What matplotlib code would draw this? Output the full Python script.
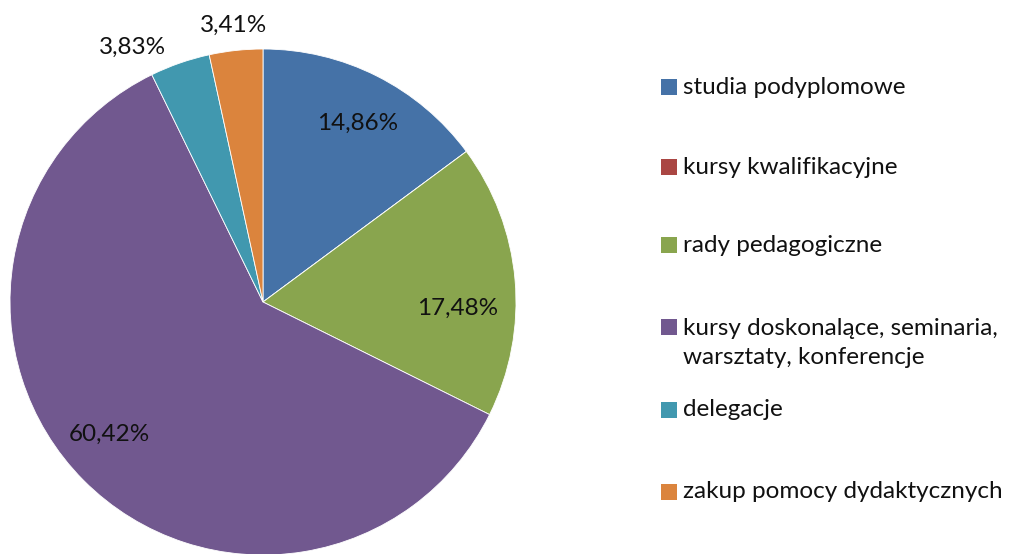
import matplotlib
matplotlib.use("Agg")
import matplotlib.pyplot as plt
import numpy as np
from matplotlib.patches import Rectangle

categories = ["studia podyplomowe", "kursy kwalifikacyjne", "rady pedagogiczne",
              "kursy doskonalące, seminaria,\nwarsztaty, konferencje", "delegacje",
              "zakup pomocy dydaktycznych"]
values = [14.86, 0.0, 17.48, 60.42, 3.83, 3.41]
pct_labels = ["14,86%", "", "17,48%", "60,42%", "3,83%", "3,41%"]
colors = ["#4572A7", "#AA4643", "#89A54E", "#71588F", "#4198AF", "#DB843D"]

plt.rcParams['font.family'] = ['Lato', 'DejaVu Sans']

W, H = 1009, 554
fig = plt.figure(figsize=(W / 100, H / 100), dpi=100)

cx, cy, r = 263, 302, 253
ax = fig.add_axes([(cx - r) / W, (H - cy - r) / H, 2 * r / W, 2 * r / H])
wedges, _ = ax.pie(values, colors=colors, startangle=90, counterclock=False,
                   radius=1.0, wedgeprops=dict(edgecolor="white", linewidth=0.6))
ax.set_xlim(-1, 1)
ax.set_ylim(-1, 1)
ax.set_aspect("equal")
ax.axis("off")

# label placement (distance as fraction of radius, angle tweak in degrees)
label_dist = [0.80, 0, 0.77, 0.80, 1.13, 1.10]
label_dang = [-1, 0, -7, -4, 8, 0]
for w, lab, d, da in zip(wedges, pct_labels, label_dist, label_dang):
    if not lab:
        continue
    ang = np.deg2rad((w.theta1 + w.theta2) / 2 + da)
    ax.text(d * np.cos(ang), d * np.sin(ang), lab, ha="center", va="center",
            fontsize=17.5, color="#111111", clip_on=False)

# legend
leg_y = [87, 167, 245, 343, 410, 492]
for lab, col, y in zip(categories, colors, leg_y):
    sq_y = y if "\n" not in lab else 327
    fig.patches.append(Rectangle((661 / W, 1 - (sq_y + 8) / H), 16 / W, 16 / H,
                                 transform=fig.transFigure, facecolor=col,
                                 edgecolor="none"))
    fig.text(683 / W, 1 - y / H, lab, ha="left", va="center", fontsize=17.5,
             color="#111111", linespacing=1.45)

fig.savefig("out.png", dpi=100, facecolor="white")
